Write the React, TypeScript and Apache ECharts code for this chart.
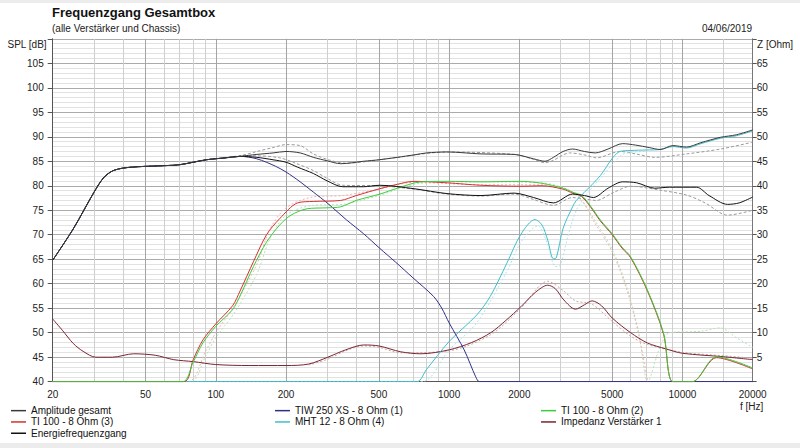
import React, { useEffect, useRef } from 'react';
import * as echarts from 'echarts';

const FONT = 'Liberation Sans, Arial, sans-serif';

// ---- data (frequency in Hz, level in dB / impedance in Ohm) ----
const AMP_F = [20, 24.5, 30, 33, 36, 40, 47, 60, 70, 91, 110, 127, 150, 176, 200, 230, 262, 300, 343, 430, 500, 600, 707, 800, 980, 1370, 1900, 2300, 2576, 2800, 3080, 3380, 3800, 4230, 4800, 5540, 6300, 7200, 8020, 9100, 10400, 12000, 14580, 17000, 20000];
const AMP_V = [64.8, 71.2, 78.6, 81.6, 83, 83.6, 83.9, 84.1, 84.3, 85.3, 85.7, 86, 86.4, 86.7, 87, 86.7, 85.8, 85.1, 84.5, 85, 85.3, 85.8, 86.3, 86.7, 86.9, 86.5, 86.4, 85.5, 85, 85.8, 87, 87.5, 87, 86.7, 87.5, 88.6, 88.3, 87.8, 87.4, 88.2, 87.9, 88.8, 89.9, 90.4, 91.4];

const ENG_F = [20, 24.5, 30, 33, 36, 40, 47, 60, 70, 91, 110, 127, 150, 176, 200, 224, 262, 300, 350, 430, 505, 707, 980, 1370, 1900, 2300, 2800, 3380, 3800, 4150, 4800, 5540, 6370, 7600, 8800, 11500, 13000, 15600, 17500, 20000];
const ENG_V = [64.8, 71.2, 78.6, 81.6, 83, 83.6, 83.9, 84.1, 84.3, 85.3, 85.7, 86, 85.8, 85.3, 84.8, 83.8, 82.5, 81, 79.8, 79.8, 80.1, 79.4, 78.4, 78, 78.5, 77.6, 76.5, 78.3, 78, 77.6, 79.5, 80.8, 80.6, 79.5, 79.7, 79.7, 78, 76.2, 76.5, 77.7];

const TIW_F = [20, 24.5, 30, 33, 36, 40, 47, 60, 70, 91, 110, 127, 150, 180, 200, 230, 262, 300, 364, 430, 505, 590, 700, 858, 930, 1000, 1160, 1300, 1350, 20000];
const TIW_V = [64.8, 71.2, 78.6, 81.6, 83, 83.6, 83.9, 84.1, 84.3, 85.3, 85.7, 86, 85.5, 84, 82.8, 80.8, 78.7, 76.5, 73, 70.2, 67.2, 64.4, 61.2, 57.4, 55, 52, 46.5, 41, 40, 40];

const TI2_F = [20, 72, 80, 88, 100, 118, 127, 145, 165, 188, 210, 246, 300, 343, 400, 505, 600, 757, 980, 1370, 2030, 2500, 3080, 3380, 3700, 4060, 4450, 5000, 5500, 6000, 7080, 8300, 9100, 11000, 14000, 20000];
const TI2_V = [40, 40, 44, 47.9, 51.3, 54.7, 57.5, 63.5, 68.5, 72, 74, 75.3, 75.5, 75.7, 77, 78.3, 79.5, 80.8, 80.9, 80.8, 80.9, 80.5, 79.5, 78.7, 78, 75.7, 73, 70.2, 67.5, 65.5, 58.7, 49.9, 40, 40, 45.1, 42.8];

const TI3_F = [20, 73, 80, 88, 100, 118, 127, 145, 165, 188, 224, 262, 343, 400, 505, 600, 707, 980, 1370, 2030, 2500, 3080, 3380, 3700, 4060, 4450, 5000, 5500, 6000, 7080, 8300, 9100, 11000, 14000, 20000];
const TI3_V = [40, 40, 44.5, 48.5, 51.8, 55.5, 58.5, 64.5, 70, 73.3, 76.5, 76.8, 77, 78, 79.4, 80.3, 80.9, 80.6, 80.1, 79.9, 80, 79.3, 78.5, 77.8, 75.5, 72.8, 70, 67.3, 65.3, 58.5, 49.7, 40, 40, 44.9, 42.6];

const MHT_F = [20, 726, 800, 1000, 1312, 1500, 1768, 2030, 2334, 2500, 2646, 2797, 2880, 3080, 3380, 3510, 3880, 4450, 5040, 5400, 6000, 7000, 8020, 9100, 10400, 12000, 14580, 17000, 20000];
const MHT_V = [40, 40, 42.5, 48.2, 53.6, 57.4, 64.2, 70.1, 73.1, 72, 68.9, 65.1, 65.3, 71.3, 75.7, 77, 79.1, 82.1, 85.8, 87, 87.2, 87.3, 87.4, 88, 87.7, 88.6, 89.7, 90.2, 91.2];

const IMP_F = [20, 22, 24.5, 27, 30.6, 36, 44.5, 55, 66, 80, 100, 140, 200, 250, 302, 360, 430, 500, 621, 758, 1000, 1250, 1508, 1750, 2030, 2350, 2646, 2850, 3100, 3480, 3800, 4100, 4500, 5000, 6000, 7080, 8500, 10000, 15000, 20000];
const IMP_V = [12.8, 10.5, 7.8, 6.2, 5, 5, 5.7, 5.4, 4.5, 4.1, 3.5, 3.3, 3.3, 3.6, 5, 6.5, 7.5, 7.3, 6.1, 5.7, 6.5, 8, 10, 12.5, 15.3, 18.3, 19.7, 19, 16.7, 14.8, 15.7, 16.5, 15.5, 13, 10, 7.9, 6.7, 5.8, 5.1, 4.5];

// reference (previous) curves, drawn dashed / dotted without legend entry
const REF_AMP_F = [20, 24.5, 30, 33, 36, 40, 47, 60, 70, 91, 110, 127, 150, 176, 200, 230, 262, 309, 364, 450, 600, 980, 1900, 2300, 2576, 2800, 3080, 3280, 3800, 4280, 5400, 6300, 7600, 10400, 14580, 20000];
const REF_AMP_V = [64.8, 71.2, 78.6, 81.6, 83, 83.6, 83.9, 84.1, 84.3, 85.3, 85.7, 86.1, 87, 87.8, 88.4, 88.2, 86.5, 85.2, 84.6, 85, 85.8, 86.9, 86.4, 85.4, 84.7, 85.2, 86.3, 86.7, 86.3, 85.7, 87, 86.5, 85.8, 86.5, 87.5, 88.9];

const REF_ENG_F = [20, 24.5, 30, 33, 36, 40, 47, 60, 70, 91, 110, 127, 150, 188, 220, 262, 300, 350, 505, 707, 980, 1370, 1900, 2300, 2797, 3380, 3800, 4280, 5000, 6000, 8020, 10400, 12500, 15600, 20000];
const REF_ENG_V = [64.8, 71.2, 78.6, 81.6, 83, 83.6, 83.9, 84.1, 84.3, 85.3, 85.7, 86.1, 86.1, 85.7, 84.6, 83.1, 81.5, 80.1, 80, 79.3, 78.3, 77.9, 78.3, 77.2, 76, 77.6, 77.3, 77, 78.5, 79.9, 79.1, 78.1, 76.5, 74, 75];

const REF_TI2_F = [20, 78, 90, 100, 120, 150, 170, 200, 260, 350, 500, 757, 1370, 2500, 3200, 3700, 4200, 5000, 5800, 6500, 7100, 8000, 8800, 12000, 14500, 17000, 20000];
const REF_TI2_V = [40, 40, 45, 49, 54, 62, 69, 74, 76, 76.2, 78, 80.5, 80.8, 80.6, 79.3, 77, 73, 67, 59, 50, 40, 47, 50, 50.3, 51, 49, 47];

const REF_TI3_F = [20, 76, 90, 100, 120, 150, 170, 200, 260, 350, 500, 707, 1370, 2500, 3200, 3700, 4200, 5000, 5800, 6500, 7100];
const REF_TI3_V = [40, 40, 46, 50, 55.5, 64, 71, 75.5, 77.7, 78, 79.3, 80.7, 80.2, 80.2, 79.3, 77, 72.5, 66.5, 58.5, 49.5, 40];

const REF_MHT_F = [20, 760, 1000, 1312, 1768, 2030, 2400, 2646, 2850, 3000, 3200, 3510, 4000, 4450, 5040, 5600, 7000];
const REF_MHT_V = [40, 40, 46.5, 52, 62.5, 68.5, 71.8, 68, 63.5, 63.8, 69, 75, 79, 81.5, 84.5, 86.5, 87];

const REF_IMP_F = [250, 302, 360, 430, 500, 621, 1000, 1508, 2030, 2646, 3100, 3480, 4100, 5000, 6000, 7080, 10000, 15000, 20000];
const REF_IMP_V = [3.4, 4.6, 6.3, 7.3, 7, 5.9, 6.3, 9.6, 15, 20.5, 18.5, 16.5, 15.8, 12.3, 9.3, 7.6, 6, 5.3, 4.8];

// axes
const X_LABELS = [20, 50, 100, 200, 500, 1000, 2000, 5000, 10000, 20000];
const X_GRID = [20, 30, 40, 50, 60, 70, 80, 90, 100, 200, 300, 400, 500, 600, 700, 800, 900, 1000, 2000, 3000, 4000, 5000, 6000, 7000, 8000, 9000, 10000, 15000, 20000];

const lg = (f: number) => Math.log10(f);
const pts = (fs: number[], vs: number[]) => fs.map((f, i) => [lg(f), vs[i]]);

function line(name: string, data: number[][], color: string, opts: any = {}) {
  return {
    type: 'line',
    name,
    data,
    showSymbol: false,
    symbol: 'none',
    smooth: 0.3,
    silent: true,
    yAxisIndex: opts.yAxisIndex || 0,
    lineStyle: { color, width: opts.width || 1, type: opts.type || 'solid' },
    itemStyle: { color },
    z: opts.z || 2,
  };
}

export default function App() {
  const ref = useRef<HTMLDivElement>(null);

  useEffect(() => {
    document.body.style.margin = '0';
    const chart = echarts.init(ref.current!, null, { renderer: 'svg' });

    const gridColors = X_GRID.map((f) => (X_LABELS.includes(f) ? '#a4a4a4' : '#cfcfcf'));
    const legendCommon = {
      orient: 'vertical',
      top: 405,
      padding: 0,
      itemWidth: 15,
      itemHeight: 1.5,
      itemGap: 0,
      icon: 'rect',
      selectedMode: false,
      textStyle: { fontFamily: FONT, fontSize: 10, color: '#111', lineHeight: 11.3 },
    };

    const option: any = {
      animation: false,
      backgroundColor: '#ffffff',
      grid: { left: 52.7, right: 47.3, top: 38.8, bottom: 66.3, containLabel: false, outerBoundsMode: 'none' },
      xAxis: {
        type: 'value',
        min: lg(20),
        max: lg(20000),
        axisLine: { show: true, lineStyle: { color: '#555', width: 1 } },
        axisTick: { show: false, customValues: X_GRID.map(lg) },
        axisLabel: {
          customValues: X_LABELS.map(lg),
          formatter: (v: number) => String(Math.round(Math.pow(10, v))),
          fontFamily: FONT,
          fontSize: 10,
          color: '#222',
          margin: 8,
          showMinLabel: true,
          showMaxLabel: true,
        },
        splitLine: { show: true, lineStyle: { color: gridColors, width: 1 } },
      },
      yAxis: [
        {
          type: 'value',
          min: 40,
          max: 110,
          interval: 5,
          axisLine: { show: true, lineStyle: { color: '#555', width: 1 } },
          axisTick: { show: true, length: 5, lineStyle: { color: '#555' } },
          minorTick: { show: false, splitNumber: 5 },
          minorSplitLine: { show: true, lineStyle: { color: '#e2e2e2', width: 1 } },
          splitLine: { show: true, lineStyle: { color: '#ababab', width: 1 } },
          axisLabel: {
            fontFamily: FONT,
            fontSize: 10,
            color: '#222',
            margin: 9,
            formatter: (v: number) => (v === 110 ? '' : String(v)),
          },
        },
        {
          type: 'value',
          min: 0,
          max: 70,
          interval: 5,
          position: 'right',
          axisLine: { show: true, lineStyle: { color: '#777', width: 1 } },
          axisTick: { show: true, length: 4, lineStyle: { color: '#555' } },
          splitLine: { show: false },
          axisLabel: {
            fontFamily: FONT,
            fontSize: 10,
            color: '#222',
            margin: 4,
            formatter: (v: number) => (v === 0 || v === 70 ? '' : String(v)),
          },
        },
      ],
      legend: [
        { ...legendCommon, left: 11, data: ['Amplitude gesamt', 'TI 100 - 8 Ohm (3)', 'Energiefrequenzgang'] },
        { ...legendCommon, left: 275, data: ['TIW 250 XS - 8 Ohm (1)', 'MHT 12 - 8 Ohm (4)'] },
        { ...legendCommon, left: 541, data: ['TI 100 - 8 Ohm (2)', 'Impedanz Verstärker 1'] },
      ],
      graphic: [
        { type: 'rect', left: 0, top: 0, shape: { width: 800, height: 3 }, style: { fill: '#ececec' }, silent: true },
        { type: 'rect', left: 0, top: 443, shape: { width: 800, height: 5 }, style: { fill: '#ececec' }, silent: true },
        { type: 'text', left: 52, top: 6, style: { text: 'Frequenzgang Gesamtbox', font: `bold 13px ${FONT}`, fill: '#111' } },
        { type: 'text', left: 52, top: 23, style: { text: '(alle Verstärker und Chassis)', font: `10px ${FONT}`, fill: '#222' } },
        { type: 'text', right: 48, top: 23, style: { text: '04/06/2019', font: `10px ${FONT}`, fill: '#222' } },
        { type: 'text', right: 753, top: 39, style: { text: 'SPL [dB]', font: `10px ${FONT}`, fill: '#222' } },
        { type: 'text', left: 757, top: 39, style: { text: 'Z [Ohm]', font: `10px ${FONT}`, fill: '#222' } },
        { type: 'text', left: 740, top: 401, style: { text: 'f [Hz]', font: `10px ${FONT}`, fill: '#222' } },
      ],
      series: [
        line('ref amp', pts(REF_AMP_F, REF_AMP_V), '#9a9a9a', { type: [3, 2], z: 1 }),
        line('ref eng', pts(REF_ENG_F, REF_ENG_V), '#9a9a9a', { type: [3, 2], z: 1 }),
        line('ref ti2', pts(REF_TI2_F, REF_TI2_V), '#b4e3b4', { type: [2, 2], z: 1 }),
        line('ref ti3', pts(REF_TI3_F, REF_TI3_V), '#f1b3b3', { type: [2, 2], z: 1 }),
        line('ref mht', pts(REF_MHT_F, REF_MHT_V), '#aee4ea', { type: [2, 2], z: 1 }),
        line('ref imp', pts(REF_IMP_F, REF_IMP_V), '#c9a5a5', { type: [2, 2], z: 1, yAxisIndex: 1 }),
        line('Impedanz Verstärker 1', pts(IMP_F, IMP_V), '#7a2430', { yAxisIndex: 1, z: 3 }),
        line('MHT 12 - 8 Ohm (4)', pts(MHT_F, MHT_V), '#3fbfcc', { z: 3 }),
        line('TIW 250 XS - 8 Ohm (1)', pts(TIW_F, TIW_V), '#30308a', { z: 4 }),
        line('TI 100 - 8 Ohm (3)', pts(TI3_F, TI3_V), '#d43030', { z: 4 }),
        line('TI 100 - 8 Ohm (2)', pts(TI2_F, TI2_V), '#3ccc3c', { z: 4 }),
        line('Energiefrequenzgang', pts(ENG_F, ENG_V), '#111111', { z: 5 }),
        line('Amplitude gesamt', pts(AMP_F, AMP_V), '#3a3a3a', { z: 5 }),
      ],
    };

    chart.setOption(option);
    return () => chart.dispose();
  }, []);

  return <div ref={ref} style={{ width: 800, height: 448 }} />;
}
